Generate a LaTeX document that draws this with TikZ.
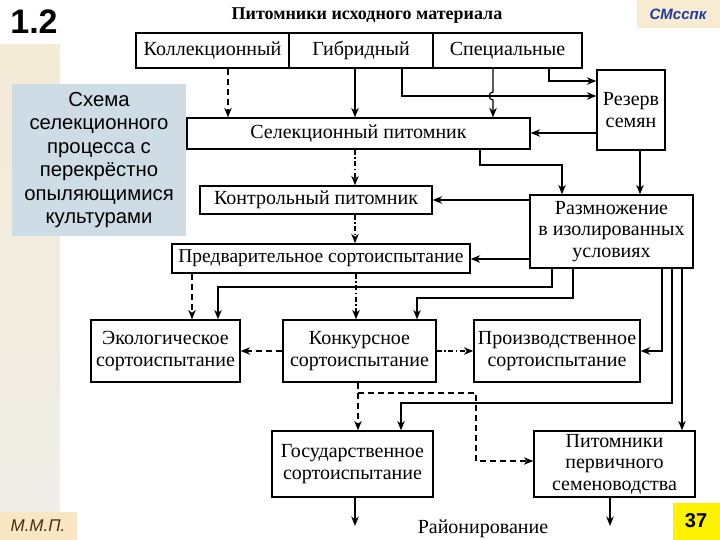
\documentclass[tikz,border=0pt]{standalone}
\usepackage{fontspec}
\setmainfont{Liberation Serif}
\newfontfamily\sansf{Liberation Sans}
\usetikzlibrary{arrows.meta}
\definecolor{beigeA}{HTML}{F3EBD6}
\definecolor{beigeB}{HTML}{EFEDE6}
\definecolor{bluebox}{HTML}{CEDCE5}
\definecolor{tagbg}{HTML}{F7ECD2}
\definecolor{mmpbg}{HTML}{F9E6C2}
\definecolor{tagblue}{HTML}{1F3C9E}
\definecolor{mmpbrown}{HTML}{4A2A12}
\begin{document}
\begin{tikzpicture}[x=1pt,y=-1pt,
  box/.style={draw, line width=1.3pt, inner sep=0pt, align=center, font=\fontsize{20}{21.5}\selectfont},
  conn/.style={line width=1.2pt, -{Stealth[length=9.5pt,width=7.5pt,inset=3pt]}},
  dsh/.style={dash pattern=on 6pt off 4pt},
  ddot/.style={dash pattern=on 5pt off 2.5pt on 1.5pt off 2.5pt},
]
\useasboundingbox (0,0) rectangle (720,540);
\fill[white] (0,0) rectangle (720,540);
% decorative left strip
\shade[top color=beigeA, bottom color=beigeB] (0,45) rectangle (60,512);
\draw[white, line width=0.8pt, opacity=0.6] (60,60) arc[start angle=0, end angle=-70, radius=40];
% labels
\node[font=\sansf\bfseries\fontsize{34}{34}\selectfont, anchor=center] (num) at (34,22) {1.2};
\fill[tagbg] (637,0) rectangle (720,28);
\node[font=\sansf\bfseries\itshape\fontsize{15}{15}\selectfont, text=tagblue] (tag) at (678,14) {СМсспк};
\fill[mmpbg] (0,512) rectangle (77,540);
\node[font=\sansf\itshape\fontsize{17}{17}\selectfont, text=mmpbrown] (mmp) at (38,526) {М.М.П.};
\fill[yellow] (673,503) rectangle (720,540);
\node[font=\sansf\bfseries\fontsize{20}{20}\selectfont] (pg) at (696,521) {37};
\node[fill=bluebox, minimum width=174pt, minimum height=152pt, inner sep=0pt, align=center,
  font=\sansf\fontsize{20.3}{23.4}\selectfont] (desc) at (99,160)
  {Схема\\селекционного\\процесса с\\перекрёстно\\опыляющимися\\культурами};
% title
\node[font=\bfseries\fontsize{18}{20}\selectfont] (title) at (367,16) {Питомники исходного материала};
% boxes
\node[box, minimum width=153pt, minimum height=35pt] (kol) at (212.5,50.5) {Коллекционный};
\node[box, minimum width=144pt, minimum height=35pt] (gib) at (361,50.5) {Гибридный};
\node[box, minimum width=149pt, minimum height=35pt] (spec) at (507.5,50.5) {Специальные};
\node[box, minimum width=68pt, minimum height=80pt] (rez) at (631,110) {Резерв\\семян};
\node[box, minimum width=343pt, minimum height=31pt] (sel) at (358.5,133.5) {Селекционный питомник};
\node[box, minimum width=163pt, minimum height=73pt] (razm) at (611.5,231.5) {Размножение\\в изолированных\\условиях};
\node[box, minimum width=232pt, minimum height=28pt] (kontr) at (316,200) {Контрольный питомник};
\node[box, minimum width=298pt, minimum height=29pt, font=\fontsize{19.5}{21}\selectfont] (pred) at (321,258.5) {Предварительное сортоиспытание};
\node[box, minimum width=149pt, minimum height=62pt] (ekol) at (165.5,351) {Экологическое\\сортоиспытание};
\node[box, minimum width=153pt, minimum height=62pt] (konk) at (359.5,351) {Конкурсное\\сортоиспытание};
\node[box, minimum width=166pt, minimum height=62pt] (proiz) at (557,351) {Производственное\\сортоиспытание};
\node[box, minimum width=161pt, minimum height=66pt] (gos) at (352.5,464) {Государственное\\сортоиспытание};
\node[box, minimum width=161pt, minimum height=66pt] (pit) at (614.5,464) {Питомники\\первичного\\семеноводства};
\node[font=\fontsize{20}{22}\selectfont] (raion) at (483,529) {Районирование};
\coordinate (endA) at (355,526);
\coordinate (endB) at (610,526);
% connectors
\draw[conn, dsh] (228,0 |- kol.south) -- (228,0 |- sel.north);
\draw[conn] (355,0 |- gib.south) -- (355,0 |- sel.north);
\draw[conn] (402,0 |- gib.south) -- (402,96) -- (rez.west |- 0,96);
\draw[conn] (549,0 |- spec.south) -- (549,81) -- (rez.west |- 0,81);
\draw[conn] (493,0 |- spec.south) -- (493,92) .. controls (488,92) and (488,100) .. (493,100) -- (493,0 |- sel.north);
\draw[conn] (rez.west |- 0,133) -- (sel.east |- 0,133);
\draw[conn] (480,0 |- sel.south) -- (480,165) -- (562,165) -- (562,0 |- razm.north);
\draw[conn] (640,0 |- rez.south) -- (640,0 |- razm.north);
\draw[conn, ddot] (355,0 |- sel.south) -- (355,0 |- kontr.north);
\draw[conn] (razm.west |- 0,200) -- (kontr.east |- 0,200);
\draw[conn, ddot] (355,0 |- kontr.south) -- (355,0 |- pred.north);
\draw[conn] (razm.west |- 0,259) -- (pred.east |- 0,259);
\draw[conn, dsh] (192,0 |- pred.south) -- (192,0 |- ekol.north);
\draw[conn] (552,0 |- razm.south) -- (552,287) -- (218,287) -- (218,0 |- ekol.north);
\draw[conn, ddot] (356,0 |- pred.south) -- (356,0 |- konk.north);
\draw[conn] (573,0 |- razm.south) -- (573,298) -- (417,298) -- (417,0 |- konk.north);
\draw[conn, dsh] (konk.west) -- (ekol.east);
\draw[conn, ddot] (konk.east) -- (proiz.west);
\draw[conn] (662,0 |- razm.south) -- (662,351) -- (proiz.east);
\draw[conn] (672,0 |- razm.south) -- (672,403) -- (401,403) -- (401,0 |- gos.north);
\draw[conn] (682,0 |- razm.south) -- (682,0 |- pit.north);
\draw[conn, dsh] (358,0 |- konk.south) -- (358,0 |- gos.north);
\draw[conn, dsh] (358,393) -- (476,393) -- (476,461) -- (pit.west |- 0,461);
\draw[conn] (355,0 |- gos.south) -- (endA);
\draw[conn] (610,0 |- pit.south) -- (endB);
\end{tikzpicture}
\end{document}
